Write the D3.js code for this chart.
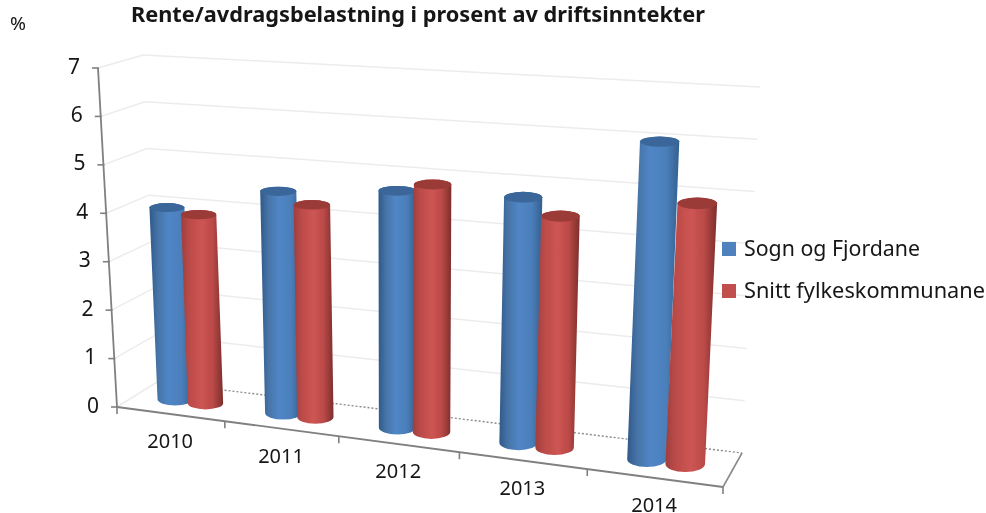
<!DOCTYPE html>
<html>
<head>
<meta charset="utf-8">
<script src="https://d3js.org/d3.v7.min.js"></script>
<style>
  html, body { margin: 0; padding: 0; background: #fff; }
  text { font-family: "Noto Sans", sans-serif; fill: #161616; }
</style>
</head>
<body>
<div id="chart"></div>
<script>
var categories = ["2010", "2011", "2012", "2013", "2014"];
var sognValues = [4.0, 4.53, 4.73, 4.8, 6.06];
var snittValues = [3.91, 4.31, 4.91, 4.49, 4.94];
var yTicks = [0, 1, 2, 3, 4, 5, 6, 7];
var seriesNames = ["Sogn og Fjordane", "Snitt fylkeskommunane"];

var width = 986,
  height = 513;

var svg = d3
  .select("#chart")
  .append("svg")
  .attr("width", width)
  .attr("height", height)
  .style("display", "block");

var defs = svg.append("defs");

// the reference is a soft upscaled screenshot
defs
  .append("filter")
  .attr("id", "soft")
  .attr("filterUnits", "userSpaceOnUse")
  .attr("x", 0)
  .attr("y", 0)
  .attr("width", width)
  .attr("height", height)
  .append("feGaussianBlur")
  .attr("stdDeviation", 0.7);

function addGradient(id, stops) {
  var g = defs
    .append("linearGradient")
    .attr("id", id)
    .attr("x1", 0)
    .attr("x2", 1)
    .attr("y1", 0)
    .attr("y2", 0);
  stops.forEach(function(s) {
    g.append("stop")
      .attr("offset", s[0])
      .attr("stop-color", s[1]);
  });
}
addGradient("blueBar", [
  [0, "#30598a"],
  [0.2, "#4674a8"],
  [0.45, "#5086c6"],
  [0.75, "#4b7fbb"],
  [1, "#33608f"]
]);
addGradient("redBar", [
  [0, "#a03e3c"],
  [0.22, "#bd4c4a"],
  [0.5, "#cd5553"],
  [0.75, "#bb4a48"],
  [1, "#7c2e2c"]
]);

// the four vertical edges of the 3d box
var valueScale = d3.scaleLinear().domain([0, 7]);
var frontLeftX = valueScale.copy().range([117, 98]),
  frontLeftY = valueScale.copy().range([407, 68]),
  backLeftX = valueScale.copy().range([157, 143]),
  backLeftY = valueScale.copy().range([382, 55]),
  backRightX = valueScale.copy().range([742, 760]),
  backRightY = valueScale.copy().range([453, 87]),
  frontRightX = valueScale.copy().range([723, 745]),
  frontRightY = valueScale.copy().range([487, 108]);

var bandScale = d3
  .scaleBand()
  .domain(categories)
  .range([0, 1]);

// foreshortening along the category axis
var perspective = 0.134;
function warp(u) {
  return (u * (1 - perspective)) / (1 - perspective * u);
}

function project(u, value, depth) {
  var t = warp(u);
  var frontX = d3.interpolateNumber(frontLeftX(value), frontRightX(value))(t),
    backX = d3.interpolateNumber(backLeftX(value), backRightX(value))(t),
    frontY = d3.interpolateNumber(frontLeftY(value), frontRightY(value))(t),
    backY = d3.interpolateNumber(backLeftY(value), backRightY(value))(t);
  return {
    x: frontX + (backX - frontX) * depth,
    y: frontY + (backY - frontY) * depth
  };
}

var root = svg.append("g").attr("filter", "url(#soft)");

function drawLine(a, b, color, strokeWidth, dash) {
  root
    .append("line")
    .attr("x1", a.x)
    .attr("y1", a.y)
    .attr("x2", b.x)
    .attr("y2", b.y)
    .attr("stroke", color)
    .attr("stroke-width", strokeWidth)
    .attr("stroke-dasharray", dash || null);
}

// gridlines on the side wall and back wall
yTicks.forEach(function(v) {
  var front = project(0, v, 0),
    corner = project(0, v, 1),
    end = project(1, v, 1);
  drawLine(front, corner, "#ececec", 1.5);
  if (v > 0) {
    drawLine(corner, end, "#ececec", 1.5);
  }
});

// floor
drawLine(project(0, 0, 1), project(1, 0, 1), "#8a8a8a", 1.4, "2 2");
drawLine(project(1, 0, 1), project(1, 0, 0), "#8a8a8a", 1.6);

// axes
drawLine(project(0, 0, 0), project(0, 7, 0), "#808080", 1.8);
drawLine(project(0, 0, 0), project(1, 0, 0), "#808080", 1.8);

yTicks.forEach(function(v) {
  var p = project(0, v, 0);
  drawLine({ x: p.x - 6, y: p.y }, { x: p.x + 1, y: p.y }, "#808080", 1.6);
  root
    .append("text")
    .attr("x", p.x - 18)
    .attr("y", p.y - 2)
    .attr("dy", "0.36em")
    .attr("text-anchor", "end")
    .attr("font-size", 21)
    .text(v);
});

d3.range(categories.length + 1).forEach(function(i) {
  var p = project(i / categories.length, 0, 0);
  drawLine(p, { x: p.x, y: p.y + 7 }, "#808080", 1.6);
});

categories.forEach(function(c) {
  var p = project(bandScale(c) + bandScale.bandwidth() / 2, 0, 0);
  root
    .append("text")
    .attr("x", p.x)
    .attr("y", p.y + 27)
    .attr("dy", "0.36em")
    .attr("text-anchor", "middle")
    .attr("font-size", 20)
    .text(c);
});

// cylinders
var blueOffset = 0.027,
  redOffset = 0.0305,
  barDepth = 0.5,
  depthRadius = 0.24;
var radiusScale = d3
  .scaleLinear()
  .domain([0, 1])
  .range([17.3, 20]);

function ellipseAt(u, value) {
  var centre = project(u, value, barDepth),
    near = project(u, value, barDepth - depthRadius),
    far = project(u, value, barDepth + depthRadius);
  return {
    x: centre.x,
    y: centre.y,
    rx: radiusScale(u),
    ry: Math.abs(near.y - far.y) / 2
  };
}

function drawCylinder(u, value, fill, capColor) {
  var top = ellipseAt(u, value),
    bottom = ellipseAt(u, 0);
  var path = d3.path();
  path.moveTo(top.x - top.rx, top.y);
  path.lineTo(bottom.x - bottom.rx, bottom.y);
  root
    .append("path")
    .attr(
      "d",
      path.toString() +
        "A" + bottom.rx + "," + bottom.ry + " 0 0 0 " + (bottom.x + bottom.rx) + "," + bottom.y +
        "L" + (top.x + top.rx) + "," + top.y +
        "A" + top.rx + "," + top.ry + " 0 0 0 " + (top.x - top.rx) + "," + top.y + "Z"
    )
    .attr("fill", "url(#" + fill + ")");
  root
    .append("ellipse")
    .attr("cx", top.x)
    .attr("cy", top.y)
    .attr("rx", top.rx)
    .attr("ry", top.ry)
    .attr("fill", capColor);
}

categories.forEach(function(c, i) {
  var mid = bandScale(c) + bandScale.bandwidth() / 2;
  drawCylinder(mid - blueOffset, sognValues[i], "blueBar", "#3a6699");
  drawCylinder(mid + redOffset, snittValues[i], "redBar", "#9b3b39");
});

// title and unit
root
  .append("text")
  .attr("x", 131)
  .attr("y", 22)
  .attr("font-size", 21)
  .attr("font-weight", "bold")
  .attr("textLength", 574)
  .attr("lengthAdjust", "spacingAndGlyphs")
  .text("Rente/avdragsbelastning i prosent av driftsinntekter");

root
  .append("text")
  .attr("x", 10)
  .attr("y", 30)
  .attr("font-size", 18)
  .attr("textLength", 16)
  .attr("lengthAdjust", "spacingAndGlyphs")
  .text("%");

// legend
var legendColors = ["#4f81bd", "#c0504d"];
var legendTextWidths = [176, 241];
var legendY = d3
  .scalePoint()
  .domain(seriesNames)
  .range([242, 284]);

seriesNames.forEach(function(name, i) {
  root
    .append("rect")
    .attr("x", 722)
    .attr("y", legendY(name))
    .attr("width", 14)
    .attr("height", 14)
    .attr("fill", legendColors[i]);
  root
    .append("text")
    .attr("x", 744)
    .attr("y", legendY(name) + 14)
    .attr("font-size", 21)
    .attr("textLength", legendTextWidths[i])
    .attr("lengthAdjust", "spacingAndGlyphs")
    .text(name);
});
</script>
</body>
</html>
